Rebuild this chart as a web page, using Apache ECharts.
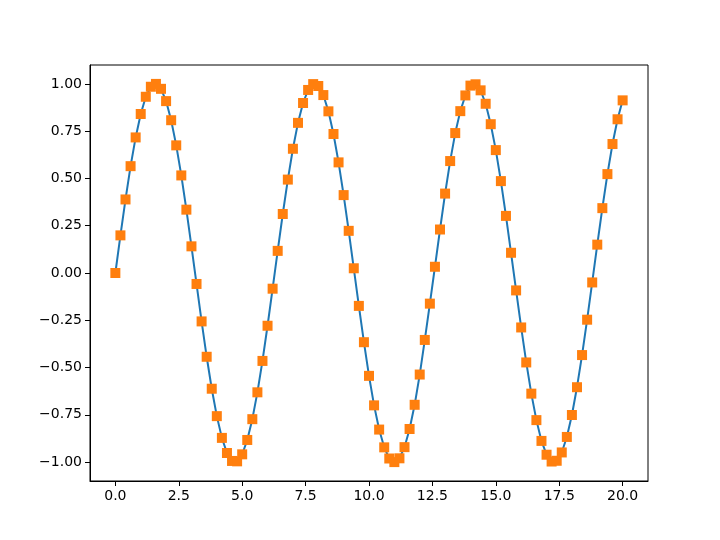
<!DOCTYPE html>
<html>
<head>
<meta charset="utf-8">
<script src="https://cdn.jsdelivr.net/npm/echarts@6/dist/echarts.min.js"></script>
<style>html,body{margin:0;padding:0;background:#fff}#c{width:720px;height:540px}</style>
</head>
<body>
<div id="c"></div>
<script>
const xValues = [0,0.2,0.4,0.6,0.8,1.0,1.2,1.4,1.6,1.8,2.0,2.2,2.4,2.6,2.8,3.0,3.2,3.4,3.6,3.8,4.0,4.2,4.4,4.6,4.8,5.0,5.2,5.4,5.6,5.8,6.0,6.2,6.4,6.6,6.8,7.0,7.2,7.4,7.6,7.8,8.0,8.2,8.4,8.6,8.8,9.0,9.2,9.4,9.6,9.8,10.0,10.2,10.4,10.6,10.8,11.0,11.2,11.4,11.6,11.8,12.0,12.2,12.4,12.6,12.8,13.0,13.2,13.4,13.6,13.8,14.0,14.2,14.4,14.6,14.8,15.0,15.2,15.4,15.6,15.8,16.0,16.2,16.4,16.6,16.8,17.0,17.2,17.4,17.6,17.8,18.0,18.2,18.4,18.6,18.8,19.0,19.2,19.4,19.6,19.8,20.0];
const yValues = [0,0.199,0.389,0.565,0.717,0.841,0.932,0.985,1.000,0.974,0.909,0.808,0.675,0.516,0.335,0.141,-0.058,-0.256,-0.443,-0.612,-0.757,-0.872,-0.952,-0.994,-0.996,-0.959,-0.883,-0.773,-0.631,-0.465,-0.279,-0.083,0.117,0.312,0.494,0.657,0.794,0.899,0.968,0.999,0.989,0.941,0.855,0.735,0.585,0.412,0.223,0.025,-0.174,-0.366,-0.544,-0.700,-0.828,-0.922,-0.981,-1.000,-0.980,-0.921,-0.825,-0.697,-0.537,-0.354,-0.162,0.033,0.230,0.420,0.592,0.740,0.856,0.939,0.991,0.998,0.966,0.895,0.787,0.650,0.486,0.302,0.107,-0.092,-0.288,-0.473,-0.638,-0.778,-0.888,-0.961,-0.997,-0.993,-0.949,-0.867,-0.751,-0.604,-0.434,-0.247,-0.050,0.150,0.343,0.523,0.682,0.813,0.913];
const xTicks = [0,2.5,5,7.5,10,12.5,15,17.5,20];
const yTicks = [-1,-0.75,-0.5,-0.25,0,0.25,0.5,0.75,1];

const pts = xValues.map((x,i)=>[x,yValues[i]]);
const chart = echarts.init(document.getElementById('c'), null, {renderer:'canvas'});
chart.setOption({
  animation:false,
  backgroundColor:'#fff',
  grid:{left:90,right:72,top:65,bottom:59,show:true,borderColor:'#000',borderWidth:1,backgroundColor:'transparent'},
  xAxis:{type:'value',min:-1,max:21,
    axisLine:{show:true,onZero:false,lineStyle:{color:'#000',width:1}},
    splitLine:{show:false},
    axisTick:{show:true,length:5,lineStyle:{color:'#000'},customValues:xTicks},
    axisLabel:{color:'#000',fontSize:14,fontFamily:'DejaVu Sans',margin:8,customValues:xTicks,
      formatter:v=>Number(v).toFixed(1).replace('-','\u2212')}},
  yAxis:{type:'value',min:-1.1,max:1.1,
    axisLine:{show:true,onZero:false,lineStyle:{color:'#000',width:1}},
    splitLine:{show:false},
    axisTick:{show:true,length:5,lineStyle:{color:'#000'},customValues:yTicks},
    axisLabel:{color:'#000',fontSize:14,fontFamily:'DejaVu Sans',margin:8,customValues:yTicks,
      formatter:v=>Number(v).toFixed(2).replace('-','\u2212')}},
  series:[
    {type:'line',data:pts,showSymbol:false,symbol:'none',lineStyle:{color:'#1f77b4',width:2},z:2},
    {type:'scatter',data:pts,symbol:'rect',symbolSize:10,itemStyle:{color:'#ff7f0e',opacity:1},z:3}
  ]
});
</script>
</body>
</html>
